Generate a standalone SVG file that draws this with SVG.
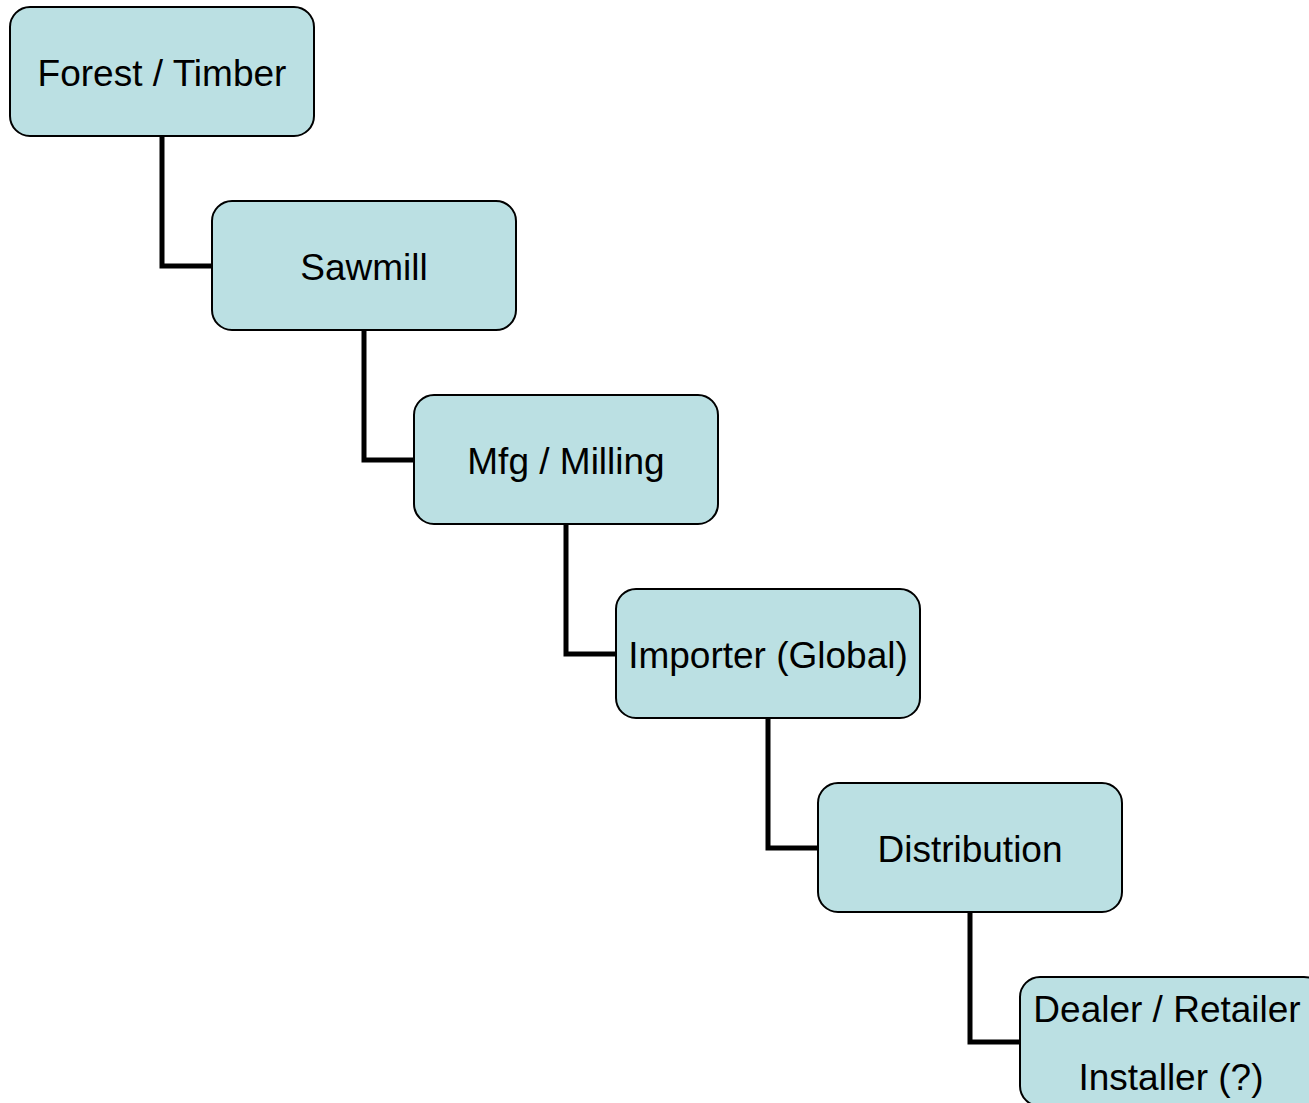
<svg xmlns="http://www.w3.org/2000/svg" width="1309" height="1103" viewBox="0 0 1309 1103">
<style>
.box{fill:#BBE0E3;stroke:#000;stroke-width:2}
.lbl{font-family:"Liberation Sans",Arial,sans-serif;font-size:37px;fill:#000;text-anchor:middle}
.conn{fill:none;stroke:#000;stroke-width:5}
</style>
<rect width="1309" height="1103" fill="#fff"/>
<g id="connectors">
<path class="conn" d="M162 136V266H212"/>
<path class="conn" d="M364 330V460H414"/>
<path class="conn" d="M566 524V654H616"/>
<path class="conn" d="M768 718V848H818"/>
<path class="conn" d="M970 912V1042H1020"/>
</g>
<g id="n1"><rect class="box" x="10" y="7" width="304" height="129" rx="20"/><text class="lbl" x="162" y="86">Forest / Timber</text></g>
<g id="n2"><rect class="box" x="212" y="201" width="304" height="129" rx="20"/><text class="lbl" x="364" y="280">Sawmill</text></g>
<g id="n3"><rect class="box" x="414" y="395" width="304" height="129" rx="20"/><text class="lbl" x="566" y="474">Mfg / Milling</text></g>
<g id="n4"><rect class="box" x="616" y="589" width="304" height="129" rx="20"/><text class="lbl" x="768" y="668">Importer (Global)</text></g>
<g id="n5"><rect class="box" x="818" y="783" width="304" height="129" rx="20"/><text class="lbl" x="970" y="862">Distribution</text></g>
<g id="n6"><rect class="box" x="1020" y="977" width="304" height="129" rx="20"/><text class="lbl" x="1167" y="1022">Dealer / Retailer</text><text class="lbl" x="1171" y="1090">Installer (?)</text></g>
</svg>
